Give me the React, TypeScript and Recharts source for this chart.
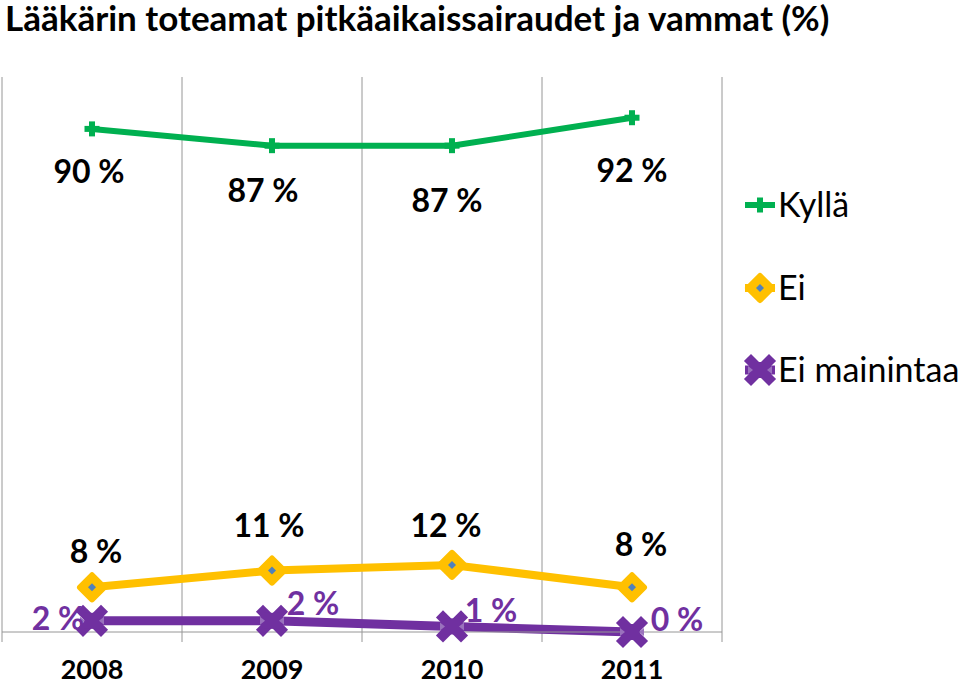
import React from 'react';
import { LineChart, Line, XAxis, YAxis, CartesianGrid, LabelList } from 'recharts';

if (typeof document !== 'undefined') {
  document.body.style.margin = '0';
}

const years = ['2008', '2009', '2010', '2011'];
const kylla = [90, 87, 87, 92];
const ei = [8, 11, 12, 8];
const eiMainintaa = [2, 2, 1, 0];
const seriesNames = ['Kyllä', 'Ei', 'Ei mainintaa'];

const data = years.map((y, i) => ({ year: y, kylla: kylla[i], ei: ei[i], eiMainintaa: eiMainintaa[i] }));

const GREEN = '#00b050';
const GOLD = '#ffc000';
const PURPLE = '#7030a0';
const GRID = '#969696';
const FONT = 'Lato, "Open Sans", sans-serif';

const PlusMark = ({ cx, cy }: any) => (
  <g>
    <rect x={cx - 7.5} y={cy - 3} width={15} height={6} fill={GREEN} />
    <rect x={cx - 3} y={cy - 7.5} width={6} height={15} fill={GREEN} />
  </g>
);

const DiamondMark = ({ cx, cy }: any) => (
  <g>
    <polygon
      points={`${cx},${cy - 12} ${cx + 12},${cy} ${cx},${cy + 12} ${cx - 12},${cy}`}
      fill={GOLD}
      stroke={GOLD}
      strokeWidth={6}
      strokeLinejoin="round"
    />
    <polygon points={`${cx},${cy - 4} ${cx + 4},${cy} ${cx},${cy + 4} ${cx - 4},${cy}`} fill="#4f81bd" />
  </g>
);

const XMark = ({ cx, cy }: any) => (
  <g>
    <line x1={cx - 9} y1={cy - 9} x2={cx + 9} y2={cy + 9} stroke={PURPLE} strokeWidth={10} strokeLinecap="square" />
    <line x1={cx - 9} y1={cy + 9} x2={cx + 9} y2={cy - 9} stroke={PURPLE} strokeWidth={10} strokeLinecap="square" />
    <rect x={cx - 8} y={cy - 8} width={16} height={16} fill={PURPLE} />
    <polygon points={`${cx - 12},${cy - 4} ${cx - 7},${cy} ${cx - 12},${cy + 4}`} fill="#9a72bd" />
    <polygon points={`${cx + 12},${cy - 4} ${cx + 7},${cy} ${cx + 12},${cy + 4}`} fill="#9a72bd" />
  </g>
);

const labelOffsets: Record<string, [number, number][]> = {
  kylla: [[-3, 42], [-9, 44], [-5, 54], [0, 52]],
  ei: [[4, -37], [-3, -46], [-6, -40], [9, -44]],
  eiMainintaa: [[-34, -3], [41, -18], [39, -17], [45, -14]],
};

const makeLabel = (key: string, color: string) => (props: any) => {
  const { x, y, value, index } = props;
  const [dx, dy] = labelOffsets[key][index] || [0, 0];
  return (
    <text
      x={x + dx}
      y={y + dy}
      textAnchor="middle"
      dominantBaseline="central"
      fill={color}
      fontFamily={FONT}
      fontWeight={700}
      fontSize={32}
    >
      {`${value} %`}
    </text>
  );
};

const legendItems = [
  { name: seriesNames[0], color: GREEN, Mark: PlusMark, w: 6 },
  { name: seriesNames[1], color: GOLD, Mark: DiamondMark, w: 8 },
  { name: seriesNames[2], color: PURPLE, Mark: XMark, w: 9 },
];

const LegendBox = () => (
  <div style={{ position: 'absolute', left: 743, top: 185, width: 217, height: 220, fontFamily: FONT }}>
    {legendItems.map((it, i) => (
      <div key={it.name} style={{ position: 'absolute', left: 0, top: i * 82.5, height: 40, width: 240 }}>
        <svg width={36} height={40} style={{ position: 'absolute', left: 0, top: 0 }}>
          <line x1={2} y1={20} x2={32} y2={20} stroke={it.color} strokeWidth={it.w} />
          <it.Mark cx={17} cy={20} />
        </svg>
        <span
          style={{
            position: 'absolute',
            left: 35,
            top: -1,
            lineHeight: '40px',
            fontSize: 34,
            color: '#000',
            whiteSpace: 'nowrap',
          }}
        >
          {it.name}
        </span>
      </div>
    ))}
  </div>
);

const GridLine = (props: any) => {
  const { x1, y1, x2, y2 } = props;
  return <line x1={x1} y1={y1 + 4} x2={x2} y2={y2 + 10} stroke={GRID} strokeWidth={1} />;
};

export default function App() {
  return (
    <div style={{ position: 'relative', width: 960, height: 684, background: '#fff', overflow: 'hidden' }}>
      <div
        style={{
          position: 'absolute',
          left: 5,
          top: 0,
          fontFamily: FONT,
          fontWeight: 700,
          fontSize: 35,
          lineHeight: '34px',
          color: '#000',
          whiteSpace: 'nowrap',
          zIndex: 2,
        }}
      >
        Lääkärin toteamat pitkäaikaissairaudet ja vammat (%)
      </div>
      <LineChart width={960} height={684} data={data} margin={{ top: 73, right: 238, bottom: 0, left: 2 }}>
        <CartesianGrid
          horizontal={false}
          vertical={GridLine}
          verticalCoordinatesGenerator={({ offset }: any) =>
            [0, 1, 2, 3, 4].map((i) => offset.left + (i * offset.width) / 4)
          }
        />
        <XAxis
          dataKey="year"
          scale="band"
          height={52}
          axisLine={{ stroke: GRID }}
          tickLine={false}
          tick={{ fill: '#000', fontSize: 27, fontWeight: 700, fontFamily: FONT }}
          tickMargin={22}
        />
        <YAxis hide domain={[0, 100]} />
        <Line
          dataKey="kylla"
          name={seriesNames[0]}
          stroke={GREEN}
          strokeWidth={6}
          dot={<PlusMark />}
          isAnimationActive={false}
        >
          <LabelList dataKey="kylla" content={makeLabel('kylla', '#000')} />
        </Line>
        <Line
          dataKey="ei"
          name={seriesNames[1]}
          stroke={GOLD}
          strokeWidth={8}
          dot={<DiamondMark />}
          isAnimationActive={false}
        >
          <LabelList dataKey="ei" content={makeLabel('ei', '#000')} />
        </Line>
        <Line
          dataKey="eiMainintaa"
          name={seriesNames[2]}
          stroke={PURPLE}
          strokeWidth={9}
          dot={<XMark />}
          isAnimationActive={false}
        >
          <LabelList dataKey="eiMainintaa" content={makeLabel('eiMainintaa', PURPLE)} />
        </Line>
      </LineChart>
      <LegendBox />
    </div>
  );
}
